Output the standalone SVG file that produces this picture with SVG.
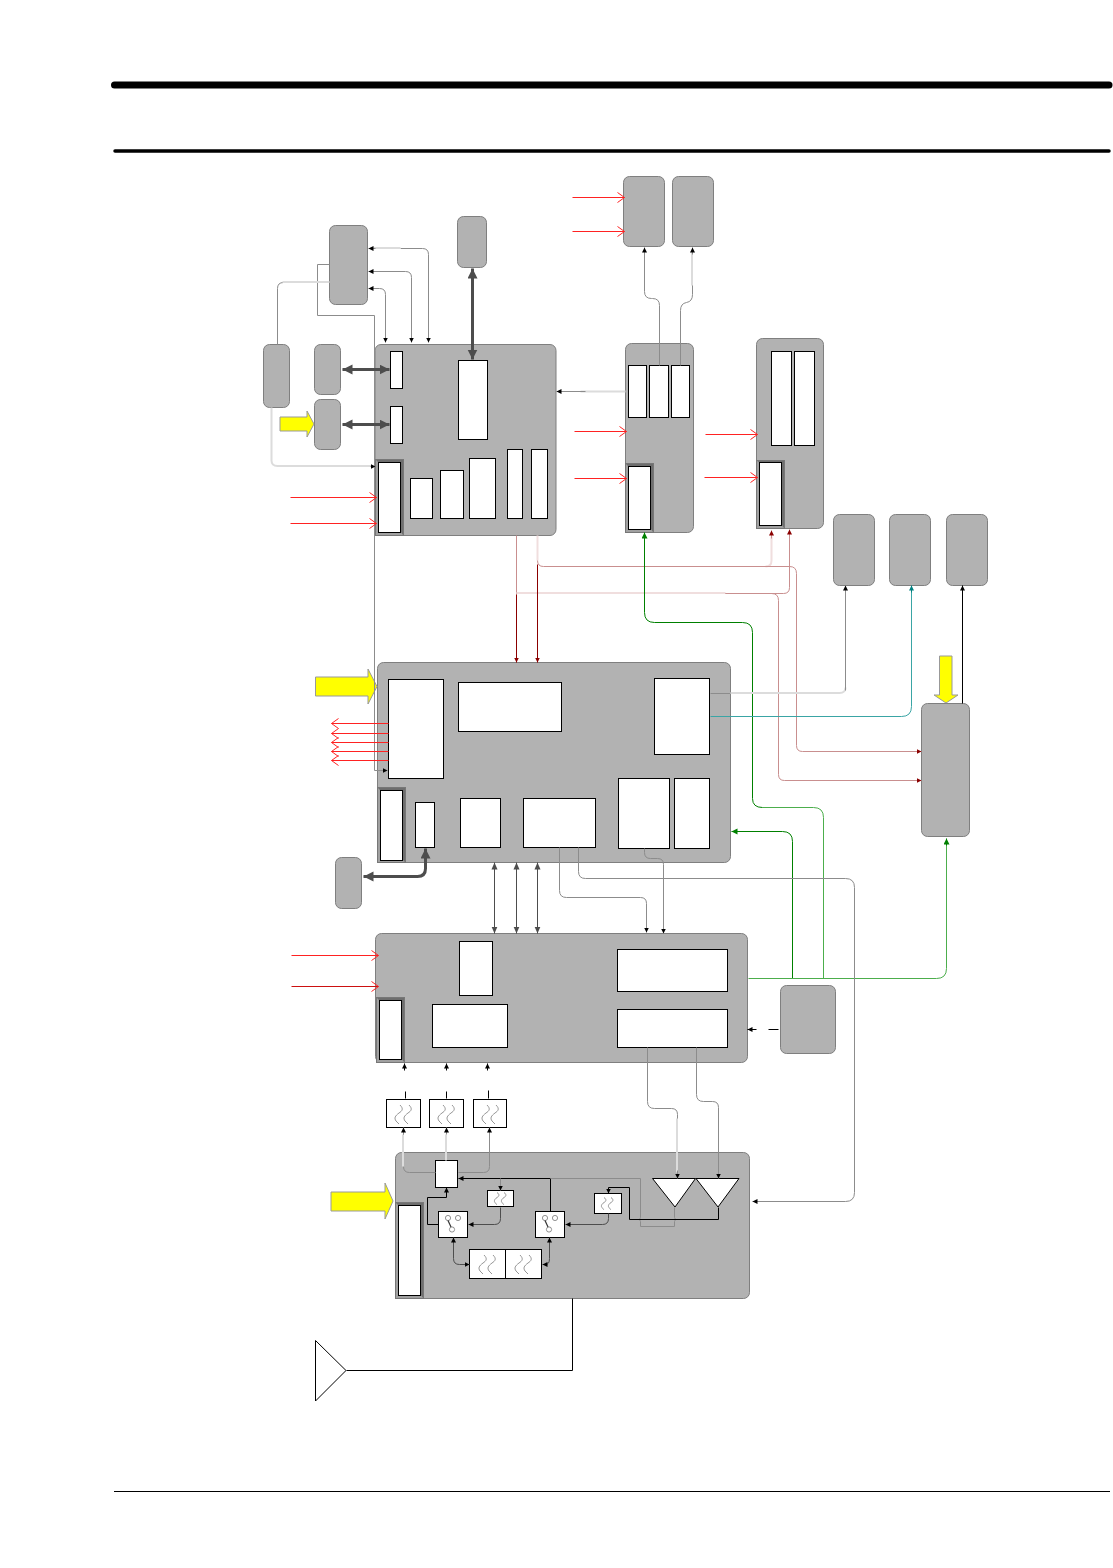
<svg xmlns="http://www.w3.org/2000/svg" width="1113" height="1568" viewBox="0 0 1113 1568">
<style>
.g{fill:#b2b2b2;stroke:#7f7f7f;stroke-width:1}
.w{fill:#fff;stroke:#000;stroke-width:1}
.bk{fill:#a0a0a0;stroke:#777;stroke-width:1}
.bd{fill:#6e6e6e}
.y{fill:#ff0;stroke:#999;stroke-width:1}
.c{fill:none;stroke:#8c8c8c;stroke-width:1}
.l{fill:none;stroke:#dcdcdc;stroke-width:2}
.cb{fill:none;stroke:#000;stroke-width:1}
.t{fill:none;stroke:#4d4d4d;stroke-width:3}
.d{fill:none;stroke:#4d4d4d;stroke-width:1}
.r{fill:none;stroke:#f22;stroke-width:1}
.dr{fill:none;stroke:#8b0000;stroke-width:1}
.lr{fill:none;stroke:#c98f8f;stroke-width:1}
.pr{fill:none;stroke:#f0dede;stroke-width:2}
.gn{fill:none;stroke:#008000;stroke-width:1}
.gl{fill:none;stroke:#4cae4c;stroke-width:1}
.te{fill:none;stroke:#3aa5a5;stroke-width:1}
.wv{fill:none;stroke:#8a8a8a;stroke-width:.9}
</style>
<defs>
<marker id="ak" markerWidth="6" markerHeight="6" refX="5" refY="3" orient="auto-start-reverse" markerUnits="userSpaceOnUse"><path d="M0 .5L5 3L0 5.500z" fill="#000"/></marker>
<marker id="ad" markerWidth="8" markerHeight="8" refX="7" refY="4" orient="auto-start-reverse" markerUnits="userSpaceOnUse"><path d="M0 1L7 4L0 7z" fill="#4d4d4d"/></marker>
<marker id="at" markerWidth="12" markerHeight="12" refX="10" refY="5" orient="auto-start-reverse" markerUnits="userSpaceOnUse"><path d="M0 0L10 5L0 10z" fill="#4d4d4d"/></marker>
<marker id="ar" markerWidth="6" markerHeight="6" refX="5" refY="3" orient="auto" markerUnits="userSpaceOnUse"><path d="M0 .5L5 3L0 5.500z" fill="#8b0000"/></marker>
<marker id="ag" markerWidth="7" markerHeight="7" refX="6" refY="3" orient="auto" markerUnits="userSpaceOnUse"><path d="M0 0L6 3L0 6z" fill="#008000"/></marker>
<marker id="ate" markerWidth="6" markerHeight="6" refX="5" refY="3" orient="auto" markerUnits="userSpaceOnUse"><path d="M0 .5L5 3L0 5.500z" fill="#008080"/></marker>
<marker id="ao" markerWidth="9" markerHeight="13" refX="8" refY="6" orient="auto" markerUnits="userSpaceOnUse"><path d="M1 1L8 6L1 11" fill="none" stroke="#f22"/></marker>
<path id="wave" class="wv" d="M-3 -9C1 -5 -1 -3 -4 -1C-8 2 -9 4 -7 7C-6 8 -5 9 -4 10M6 -9C10 -5 8 -3 5 -1C1 2 0 4 2 7C3 8 4 9 5 10"/>
<path id="wave-s" class="wv" d="M-3 -6C0 -4 -1 -2 -3 -1C-6 1 -6 3 -5 4C-4 5 -4 6 -3 6M4 -6C7 -4 6 -2 4 -1C1 1 1 3 2 4C3 5 3 6 4 6"/>
<g id="sw"><circle cx="-5" cy="-6" r="2.600" fill="none" stroke="#777" stroke-width=".8"/><circle cx="5" cy="-6" r="2.600" fill="none" stroke="#777" stroke-width=".8"/><circle cx="-1" cy="5.500" r="2.600" fill="none" stroke="#777" stroke-width=".8"/><path d="M-5 -3.500L-2 3" stroke="#333" stroke-width="1.200"/></g>
</defs>
<g id="rules">
<path d="M114.500 85H1109" stroke="#000" stroke-width="7" stroke-linecap="round"/>
<path d="M115 151H1109" stroke="#000" stroke-width="3.500" stroke-linecap="round"/>
<path d="M114 1491.500H1110" stroke="#000" stroke-width="1"/>
</g>
<g id="n-a"><rect class="g" x="329.500" y="225.500" width="38" height="79" rx="6"/></g>
<g id="n-b"><rect class="g" x="457.500" y="216.500" width="29" height="51" rx="6"/></g>
<g id="n-c"><rect class="g" x="263.500" y="344.500" width="26" height="63" rx="6"/></g>
<g id="n-d"><rect class="g" x="314.500" y="344.500" width="26" height="50" rx="6"/></g>
<g id="n-e"><rect class="g" x="314.500" y="399.500" width="26" height="50" rx="6"/></g>
<g id="n-f">
<rect class="g" x="375" y="344.500" width="181" height="191" rx="6"/>
<rect class="w" x="390.500" y="351.500" width="12" height="37"/>
<rect class="w" x="390.500" y="406.500" width="12" height="37"/>
<rect class="w" x="458.500" y="360.500" width="29" height="79"/>
<rect class="bk" x="375.500" y="459.500" width="28" height="76"/>
<path class="bd" d="M376 460H403V535L401 532V462H378z"/>
<rect class="w" x="378.500" y="462.500" width="22" height="70"/>
<rect class="w" x="410.500" y="478.500" width="22" height="40"/>
<rect class="w" x="440.500" y="470.500" width="23" height="48"/>
<rect class="w" x="469.500" y="458.500" width="26" height="60"/>
<rect class="w" x="507.500" y="449.500" width="15" height="69"/>
<rect class="w" x="531.500" y="449.500" width="16" height="69"/>
</g>
<g id="n-g">
<rect class="g" x="625.500" y="343.500" width="68" height="189" rx="6"/>
<rect class="w" x="628.500" y="365.500" width="18" height="52"/>
<rect class="w" x="649.500" y="365.500" width="19" height="52"/>
<rect class="w" x="671.500" y="365.500" width="18" height="52"/>
<rect class="bk" x="625.500" y="463.500" width="28" height="69"/>
<path class="bd" d="M626 464H653V532L651 529V466H628z"/>
<rect class="w" x="628.500" y="466.500" width="22" height="63"/>
</g>
<g id="n-h">
<rect class="g" x="756.500" y="338.500" width="67" height="190" rx="6"/>
<rect class="w" x="771.500" y="351.500" width="20" height="94"/>
<rect class="w" x="794.500" y="351.500" width="20" height="94"/>
<rect class="bk" x="756.500" y="460.500" width="28" height="68"/>
<path class="bd" d="M757 461H784V528L782 525V462H759z"/>
<rect class="w" x="759.500" y="462.500" width="22" height="63"/>
</g>
<g id="n-i"><rect class="g" x="623.500" y="176.500" width="41" height="70" rx="6"/></g>
<g id="n-j"><rect class="g" x="672.500" y="176.500" width="41" height="70" rx="6"/></g>
<g id="n-k"><rect class="g" x="833.500" y="514.500" width="41" height="71" rx="6"/></g>
<g id="n-l"><rect class="g" x="889.500" y="514.500" width="41" height="71" rx="6"/></g>
<g id="n-m"><rect class="g" x="946.500" y="514.500" width="41" height="71" rx="6"/></g>
<g id="n-n"><rect class="g" x="921.500" y="703.500" width="48" height="133" rx="6"/></g>
<g id="n-o">
<rect class="g" x="377.500" y="662.500" width="353" height="200" rx="6"/>
<rect class="w" x="388.500" y="679.500" width="55" height="99"/>
<rect class="w" x="458.500" y="682.500" width="103" height="49"/>
<rect class="w" x="654.500" y="678.500" width="55" height="76"/>
<rect class="w" x="618.500" y="778.500" width="51" height="70"/>
<rect class="w" x="674.500" y="778.500" width="35" height="70"/>
<rect class="bk" x="377.500" y="787.500" width="28" height="75"/>
<path class="bd" d="M378 788H405V862L403 860V790H380z"/>
<rect class="w" x="380.500" y="790.500" width="22" height="70"/>
<rect class="w" x="415.500" y="802.500" width="19" height="45"/>
<rect class="w" x="460.500" y="798.500" width="40" height="49"/>
<rect class="w" x="523.500" y="798.500" width="72" height="49"/>
</g>
<g id="n-p"><rect class="g" x="335.500" y="857.500" width="26" height="51" rx="6"/></g>
<g id="n-q">
<rect class="g" x="375.500" y="933.500" width="372" height="129" rx="6"/>
<rect class="w" x="459.500" y="941.500" width="33" height="54"/>
<rect class="w" x="617.500" y="949.500" width="110" height="42"/>
<rect class="w" x="617.500" y="1009.500" width="110" height="38"/>
<rect class="w" x="432.500" y="1004.500" width="75" height="43"/>
<rect class="bk" x="376.500" y="997.500" width="28" height="65"/>
<path class="bd" d="M377 998H404V1062L402 1059V1000H379z"/>
<rect class="w" x="379.500" y="1000.500" width="22" height="59"/>
</g>
<g id="n-r"><rect class="g" x="780.500" y="985.500" width="55" height="68" rx="6"/></g>
<g id="n-s">
<rect class="g" x="395.500" y="1152.500" width="354" height="146" rx="6"/>
<rect class="bk" x="395.500" y="1202.500" width="28" height="96"/>
<path class="bd" d="M396 1203H423V1298L421 1295V1205H398z"/>
<rect class="w" x="398.500" y="1205.500" width="22" height="90"/>
<rect class="w" x="435.500" y="1160.500" width="22" height="27"/>
</g>
<g id="f-1"><rect class="w" x="386.500" y="1099.500" width="34" height="28"/><use href="#wave" x="403" y="1114"/></g>
<g id="f-2"><rect class="w" x="429.500" y="1099.500" width="34" height="28"/><use href="#wave" x="446" y="1114"/></g>
<g id="f-3"><rect class="w" x="473.500" y="1099.500" width="33" height="28"/><use href="#wave" x="490" y="1114"/></g>
<g id="f-4"><rect class="w" x="487.500" y="1190.500" width="26" height="16"/><use href="#wave-s" x="500" y="1198.500"/></g>
<g id="f-5"><rect class="w" x="594.500" y="1193.500" width="27" height="20"/><use href="#wave-s" x="607" y="1203.500"/></g>
<g id="f-6"><rect class="w" x="469.500" y="1249.500" width="36" height="29"/><use href="#wave" x="487" y="1264"/></g>
<g id="f-7"><rect class="w" x="505.500" y="1249.500" width="36" height="29"/><use href="#wave" x="523" y="1264"/></g>
<g id="sw-1"><rect class="w" x="438.500" y="1211.500" width="29" height="26"/><use href="#sw" x="453" y="1224"/></g>
<g id="sw-2"><rect class="w" x="535.500" y="1211.500" width="29" height="26"/><use href="#sw" x="550" y="1224"/></g>
<g id="amp-1"><path class="w" d="M652.500 1178.500H695.500L675 1207z"/></g>
<g id="amp-2"><path class="w" d="M696 1178.500H739L718 1207z"/></g>
<g id="antenna"><path d="M315.500 1340.500L346 1370.500L315.500 1401z" fill="#fff" stroke="#000"/></g>
<g id="inputs">
<path class="y" d="M280 417H307V411L314 424L307 437V431H280z"/>
<path class="y" d="M315.500 677H368V669L377 686.500L368 704V696H315.500z"/>
<path class="y" d="M331 1192H385V1183L393 1201L385 1219V1211H331z"/>
<path class="y" d="M939.500 656H952V695H958L946 703L934 695H939.500z"/>
</g>
<g id="connectors" transform="translate(.5 .5)">
<path class="c" d="M428 342V254Q428 248 422 248H400" marker-start="url(#ak)"/>
<path class="l" d="M400 247.500H370"/>
<path class="c" d="M375 248H368" marker-end="url(#ak)"/>
<path class="c" d="M411 342V277Q411 271 405 271H368" marker-start="url(#ak)" marker-end="url(#ak)"/>
<path class="c" d="M385 342V294Q385 288 379 288H368" marker-start="url(#ak)" marker-end="url(#ak)"/>
<path class="c" d="M329 264H317V315H374V770H387" marker-end="url(#ak)"/>
<path class="c" d="M277 344V288Q277 282 283 282H315Q317 279 319 282H329"/>
<path class="l" d="M282 281.500H329"/>
<path class="l" d="M271 407V460Q271 465.500 277 465.500H372"/>
<path class="c" d="M370 466H375" marker-end="url(#ak)"/>
<path class="t" d="M342 369H389" marker-start="url(#at)" marker-end="url(#at)"/>
<path class="t" d="M342 424H389" marker-start="url(#at)" marker-end="url(#at)"/>
<path class="t" d="M472 268V359" marker-start="url(#at)" marker-end="url(#at)"/>
<path class="t" d="M363 876H417Q425 876 425 868V848" marker-start="url(#at)" marker-end="url(#at)"/>
<path class="r" d="M290 497H376" marker-end="url(#ao)"/>
<path class="r" d="M290 523H376" marker-end="url(#ao)"/>
<path class="r" d="M572 197H624" marker-end="url(#ao)"/>
<path class="r" d="M572 231H624" marker-end="url(#ao)"/>
<path class="r" d="M574 431H626" marker-end="url(#ao)"/>
<path class="r" d="M574 478H626" marker-end="url(#ao)"/>
<path class="r" d="M705 434H757" marker-end="url(#ao)"/>
<path class="r" d="M704 477H757" marker-end="url(#ao)"/>
<path class="r" d="M291 955H378" marker-end="url(#ao)"/>
<path class="r" d="M291 986H378" style="stroke:#c11" marker-end="url(#ao)"/>
<path class="r" d="M388 723H331" marker-end="url(#ao)"/>
<path class="r" d="M388 733H331" marker-end="url(#ao)"/>
<path class="r" d="M388 742H331" marker-end="url(#ao)"/>
<path class="r" d="M388 751H331" marker-end="url(#ao)"/>
<path class="r" d="M388 760H331" marker-end="url(#ao)"/>
<path class="l" d="M625 391H580"/>
<path class="c" d="M585 391H556" marker-end="url(#ak)"/>
<path class="c" d="M659 365V305Q659 298 652 298H651Q644 298 644 291V247" marker-end="url(#ak)"/>
<path class="c" d="M680 365V310Q680 303 686 302Q692 301 692 294V280"/>
<path class="l" d="M691.500 285V252"/>
<path class="c" d="M692 254V247" marker-end="url(#ak)"/>
<path class="lr" d="M516 535V594"/>
<path class="pr" d="M537 535V560"/>
<path class="lr" d="M537 560Q537 566 543 566H765"/>
<path class="pr" d="M765 566Q771 566 771 560V536"/>
<path class="lr" d="M771 538V530" marker-end="url(#ar)"/>
<path class="lr" d="M700 566H789Q796 566 796 573V745Q796 751 802 751H921" marker-end="url(#ar)"/>
<path class="pr" d="M516 592.500H725"/>
<path class="lr" d="M725 593H783Q789 593 789 587V529" marker-end="url(#ar)"/>
<path class="lr" d="M725 593H771Q778 593 778 600V774Q778 780 784 780H921" marker-end="url(#ar)"/>
<path class="dr" d="M516 594V662" marker-end="url(#ar)"/>
<path class="dr" d="M537 564V662" marker-end="url(#ar)"/>
<path class="gl" d="M823 978V817Q823 807 813 807H762"/>
<path class="gn" d="M762 807Q752 807 752 798V632Q752 622 742 622H654Q644 622 644 612V532" marker-end="url(#ag)"/>
<path class="gn" d="M792 978V841Q792 831 782 831H731" marker-end="url(#ag)"/>
<path class="gl" d="M748 978H936Q946 978 946 968V842"/>
<path class="gn" d="M946 845V838" marker-end="url(#ag)"/>
<path class="c" d="M710 693H732"/>
<path class="l" d="M730 692.500H839Q845 692.500 845 687"/>
<path class="c" d="M845 690V585" marker-end="url(#ak)"/>
<path class="te" d="M710 716H901Q911 716 911 706V590"/>
<path class="te" d="M911 592V585" style="stroke:#008080" marker-end="url(#ate)"/>
<path class="cb" d="M962 703V585" marker-end="url(#ak)"/>
<path class="d" d="M494 862V933" marker-start="url(#ad)" marker-end="url(#ad)"/>
<path class="d" d="M516 862V933" marker-start="url(#ad)" marker-end="url(#ad)"/>
<path class="d" d="M537 862V933" marker-start="url(#ad)" marker-end="url(#ad)"/>
<path class="c" d="M559 847V890Q559 897 566 897H640Q646 897 646 903V932" marker-end="url(#ak)"/>
<path class="c" d="M578 847V871Q578 878 585 878H845Q854 878 854 887V1192Q854 1201 845 1201H752" marker-end="url(#ak)"/>
<path class="c" d="M644 848V852Q644 858 650 858H657Q663 858 663 864V933" marker-end="url(#ak)"/>
<path class="cb" d="M404 1070V1063" marker-end="url(#ak)"/>
<path class="cb" d="M446 1070V1063" marker-end="url(#ak)"/>
<path class="cb" d="M487 1070V1063" marker-end="url(#ak)"/>
<path class="cb" d="M405 1091V1098M446 1091V1098M488 1090V1098"/>
<path class="cb" d="M778 1029H768"/>
<path class="cb" d="M756 1029H747" marker-end="url(#ak)"/>
<path class="c" d="M647 1047V1101Q647 1108 654 1108H671Q677 1108 677 1114V1125"/>
<path class="l" d="M676.500 1118V1172"/>
<path class="c" d="M677 1170V1178" marker-end="url(#ak)"/>
<path class="c" d="M696 1047V1094Q696 1101 703 1101H712Q718 1101 718 1107V1178" marker-end="url(#ak)"/>
<path class="c" d="M435 1172H409Q403 1172 403 1166V1132"/>
<path class="l" d="M402.500 1134V1166"/>
<path class="c" d="M403 1134V1127" marker-end="url(#ak)"/>
<path class="l" d="M445.500 1160V1134"/>
<path class="c" d="M446 1134V1127" marker-end="url(#ak)"/>
<path class="c" d="M458 1172H483Q489 1172 489 1166V1127" marker-end="url(#ak)"/>
<path class="cb" d="M550 1211V1178H458" marker-end="url(#ak)"/>
<path class="c" d="M500 1178V1190" marker-end="url(#ak)"/>
<path class="c" d="M550 1178H640V1217Q638 1219 640 1221V1226H674V1221Q676 1219 674 1217V1207"/>
<path class="cb" d="M718 1207V1219H629V1187H608V1193" marker-end="url(#ak)"/>
<path class="d" d="M608 1213V1218Q608 1224 602 1224H565" marker-end="url(#ak)"/>
<path class="d" d="M500 1207V1218Q500 1224 494 1224H468" marker-end="url(#ak)"/>
<path class="cb" d="M438 1224H427V1197H446V1187" marker-end="url(#ak)"/>
<path class="d" d="M453 1237V1258Q453 1264 459 1264H469" marker-start="url(#ak)" marker-end="url(#ak)"/>
<path class="d" d="M549 1237V1258Q549 1264 545 1264H542" marker-start="url(#ak)" marker-end="url(#ak)"/>
<path class="cb" d="M572 1298V1370H346"/>
</g>
</svg>
